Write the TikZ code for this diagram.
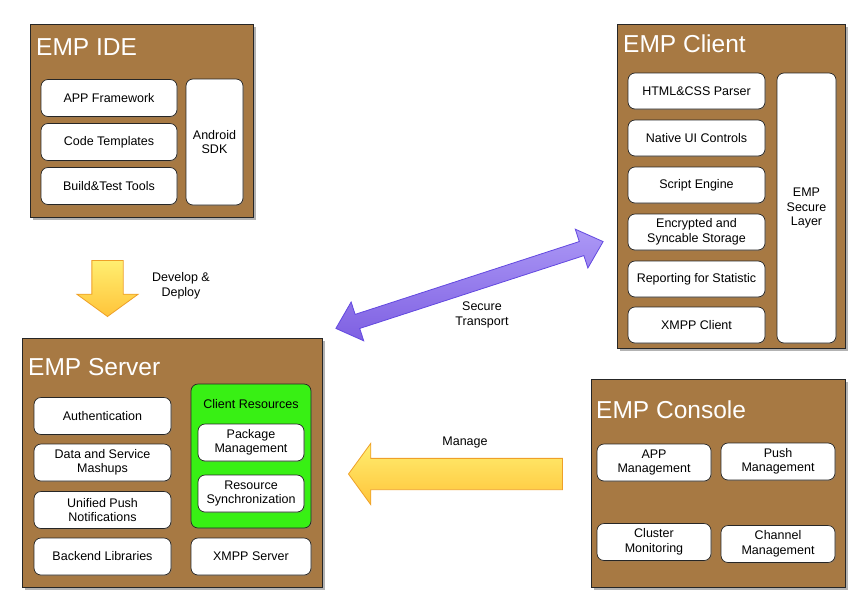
\documentclass[tikz,border=0pt]{standalone}
\usepackage{fontspec}
\setmainfont{Liberation Sans}
\usetikzlibrary{shapes, arrows, shadows, backgrounds}
\definecolor{empbrown}{RGB}{167,121,67}
\definecolor{empgreen}{RGB}{56,240,20}
\definecolor{flowtop}{RGB}{255,238,112}
\definecolor{flowbottom}{RGB}{255,196,58}
\definecolor{flowline}{RGB}{238,160,40}
\definecolor{transtop}{RGB}{172,152,246}
\definecolor{transbottom}{RGB}{126,96,226}
\definecolor{transline}{RGB}{98,72,224}
\newcommand\partfont{\fontsize{12.5}{14.5}\selectfont}

\begin{document}
\begin{tikzpicture}[x=1pt, y=-1pt,
    group/.style 2 args={draw=black!85, fill=empbrown, line width=0.9pt, minimum width=#1, minimum height=#2, drop shadow={shadow xshift=2.5pt, shadow yshift=-3pt, opacity=0.6}},
    part/.style 2 args={draw=black!85, fill=white, rounded corners=7pt, line width=0.7pt, minimum width=#1, minimum height=#2, align=center, inner sep=0pt, font=\partfont, drop shadow={shadow xshift=1pt, shadow yshift=-1pt, opacity=0.3}},
    title/.style={anchor=west, inner sep=0pt, text=white, font=\fontsize{24.5}{28}\selectfont},
    flow/.style={single arrow, anchor=tip, draw=flowline, line width=0.8pt, top color=flowtop, bottom color=flowbottom, minimum width=61pt, single arrow head extend=15pt, single arrow tip angle=108, inner xsep=0pt, inner ysep=15.25pt},
    transport/.style={double arrow, draw=transline, line width=0.8pt, top color=transtop, bottom color=transbottom, minimum width=40pt, double arrow head extend=13pt, double arrow tip angle=84, inner xsep=0pt, inner ysep=7pt},
    label/.style={font=\partfont, align=center, inner sep=0pt}]
  \useasboundingbox (0,0) rectangle (866,613);

  % EMP IDE
  \node[group={223pt}{193pt}] (ide) at (141.5,120.5) {};
  \node[title] (idetitle) at (36,47) {EMP IDE};
  \node[part={136pt}{37pt}] (framework) at (109,98) {APP Framework};
  \node[part={136pt}{37pt}] (templates) at (109,142) {Code Templates};
  \node[part={136pt}{37pt}] (buildtest) at (109,186) {Build\&Test Tools};
  \node[part={57pt}{126pt}] (sdk) at (214.5,142) {Android\\SDK};

  % EMP Client
  \node[group={228pt}{324pt}] (client) at (731,186) {};
  \node[title] (clienttitle) at (623,44) {EMP Client};
  \node[part={137pt}{36pt}] (parser) at (696.5,91) {HTML\&CSS Parser};
  \node[part={137pt}{36pt}] (controls) at (696.5,138) {Native UI Controls};
  \node[part={137pt}{36pt}] (engine) at (696.5,185) {Script Engine};
  \node[part={137pt}{36pt}] (storage) at (696.5,232) {Encrypted and\\Syncable Storage};
  \node[part={137pt}{36pt}] (reporting) at (696.5,279) {Reporting for Statistic};
  \node[part={137pt}{36pt}] (xmppclient) at (696.5,325) {XMPP Client};
  \node[part={59pt}{270pt}] (securelayer) at (806.5,208) {EMP\\Secure\\Layer};

  % EMP Server
  \node[group={300pt}{249pt}] (server) at (172,462.5) {};
  \node[title] (servertitle) at (28,367) {EMP Server};
  \node[part={137pt}{37pt}] (auth) at (102.5,416) {Authentication};
  \node[part={137pt}{37pt}] (mashups) at (102.5,462.5) {Data and Service\\Mashups};
  \node[part={137pt}{37pt}] (unipush) at (102.5,510) {Unified Push\\Notifications};
  \node[part={137pt}{37pt}] (backend) at (102.5,556.5) {Backend Libraries};
  \node[part={120pt}{144pt}, fill=empgreen] (resources) at (251,456) {};
  \node[label] (restitle) at (251,404) {Client Resources};
  \node[part={106pt}{37pt}] (package) at (251,442.5) {Package\\Management};
  \node[part={106pt}{37pt}] (sync) at (251,493.5) {Resource\\Synchronization};
  \node[part={120pt}{37pt}] (xmppserver) at (251,556.5) {XMPP Server};

  % EMP Console
  \node[group={254pt}{208pt}] (console) at (718,483) {};
  \node[title] (consoletitle) at (596,410) {EMP Console};
  \node[part={114pt}{37pt}] (appmgmt) at (654,462.5) {APP\\Management};
  \node[part={114pt}{37pt}] (pushmgmt) at (778,461.5) {Push\\Management};
  \node[part={114pt}{37pt}] (cluster) at (654,542) {Cluster\\Monitoring};
  \node[part={114pt}{37pt}] (channel) at (778,544) {Channel\\Management};

  % arrows between the groups
  \node[flow, rotate=-90, minimum height=56pt] (deploy) at (107.5,317) {};
  \node[label] (deploylabel) at (181,286) {Develop \&\\Deploy};
  \node[flow, rotate=180, minimum height=214pt] (manage) at (348,474) {};
  \node[label] (managelabel) at (465,442) {Manage};
  \node[transport, rotate=18, minimum height=281pt] (secure) at (469.5,285) {};
  \node[label] (securelabel) at (482,315) {Secure\\Transport};
\end{tikzpicture}
\end{document}
